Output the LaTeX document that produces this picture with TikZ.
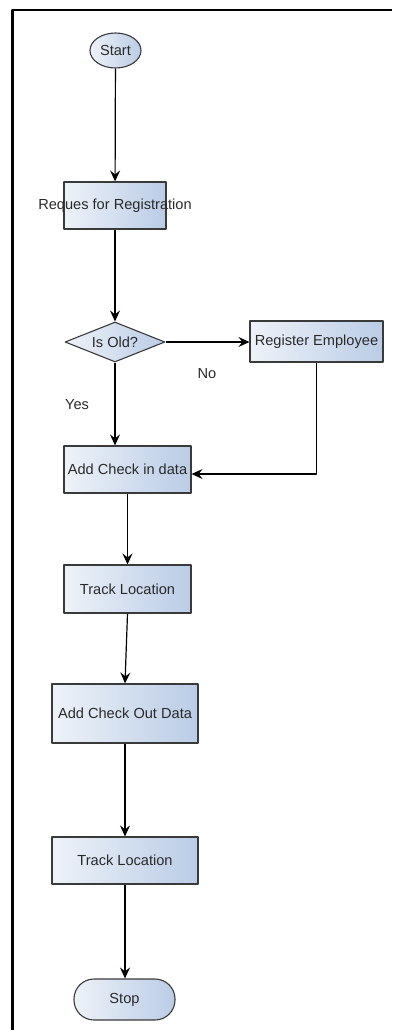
\documentclass[tikz,border=0pt]{standalone}
\usepackage{fontspec}
\setmainfont{Liberation Sans}
\usetikzlibrary{shapes.geometric,arrows.meta}
\definecolor{boxlight}{HTML}{EEF2F8}
\definecolor{boxdark}{HTML}{BACCE6}
\definecolor{boxline}{HTML}{3A3A3A}
\definecolor{txtgray}{HTML}{2A2A2A}
\begin{document}
\begin{tikzpicture}[x=1pt,y=-1pt, font=\fontsize{14.6}{17}\selectfont, line join=round, >={Stealth[length=11pt,width=10pt,inset=4pt]},
  boxfill/.style={draw=boxline, line width=1.1pt, left color=boxlight, right color=boxdark, text=txtgray, inner sep=1pt},
  procbox/.style={boxfill, rectangle},
  termoval/.style={boxfill, ellipse},
  termpill/.style={boxfill, rectangle, rounded corners=20pt},
  decbox/.style={boxfill, diamond, aspect=2.5, inner sep=0pt},
  flow/.style={->, line width=1.2pt, black},
  lbl/.style={text=txtgray}]
\useasboundingbox (0,0) rectangle (392,1030);
\draw[line width=2.6pt] (392,10) -- (12.5,10) -- (12.5,1030);
\node[termoval, minimum width=51, minimum height=35] (start) at (115.5,50.5) {Start};
\node[procbox, minimum width=102, minimum height=47, label={[lbl]center:Reques for Registration}] (req) at (115,205.5) {};
\node[decbox, minimum width=100, minimum height=40] (old) at (115,342) {Is Old?};
\node[procbox, minimum width=133, minimum height=41] (reg) at (316.5,341.5) {Register Employee};
\node[procbox, minimum width=127, minimum height=47] (chin) at (127.5,469.5) {Add Check in data};
\node[procbox, minimum width=127, minimum height=48] (trk1) at (127.5,589) {Track Location};
\node[procbox, minimum width=146, minimum height=59] (chout) at (125,713.5) {Add Check Out Data};
\node[procbox, minimum width=146, minimum height=47] (trk2) at (125,860.5) {Track Location};
\node[termpill, minimum width=101, minimum height=41] (stop) at (124.5,999.5) {Stop};
\node[lbl] (no) at (207,374) {No};
\node[lbl] (yes) at (77,405) {Yes};
\draw[flow] (start) -- (req);
\draw[flow] (req) -- (old);
\draw[flow] (old.east) -- (old.east -| reg.west);
\draw[flow] (old.south) -- (old.south |- chin.north);
\draw[flow] (reg.south) |- ([yshift=-4.5pt]chin.east);
\draw[flow] (chin.south) -- (chin.south |- trk1.north);
\draw[flow] (trk1.south) -- (chout.north);
\draw[flow] (chout) -- (trk2);
\draw[flow] (trk2.south) -- (trk2.south |- stop.north);
\end{tikzpicture}
\end{document}
